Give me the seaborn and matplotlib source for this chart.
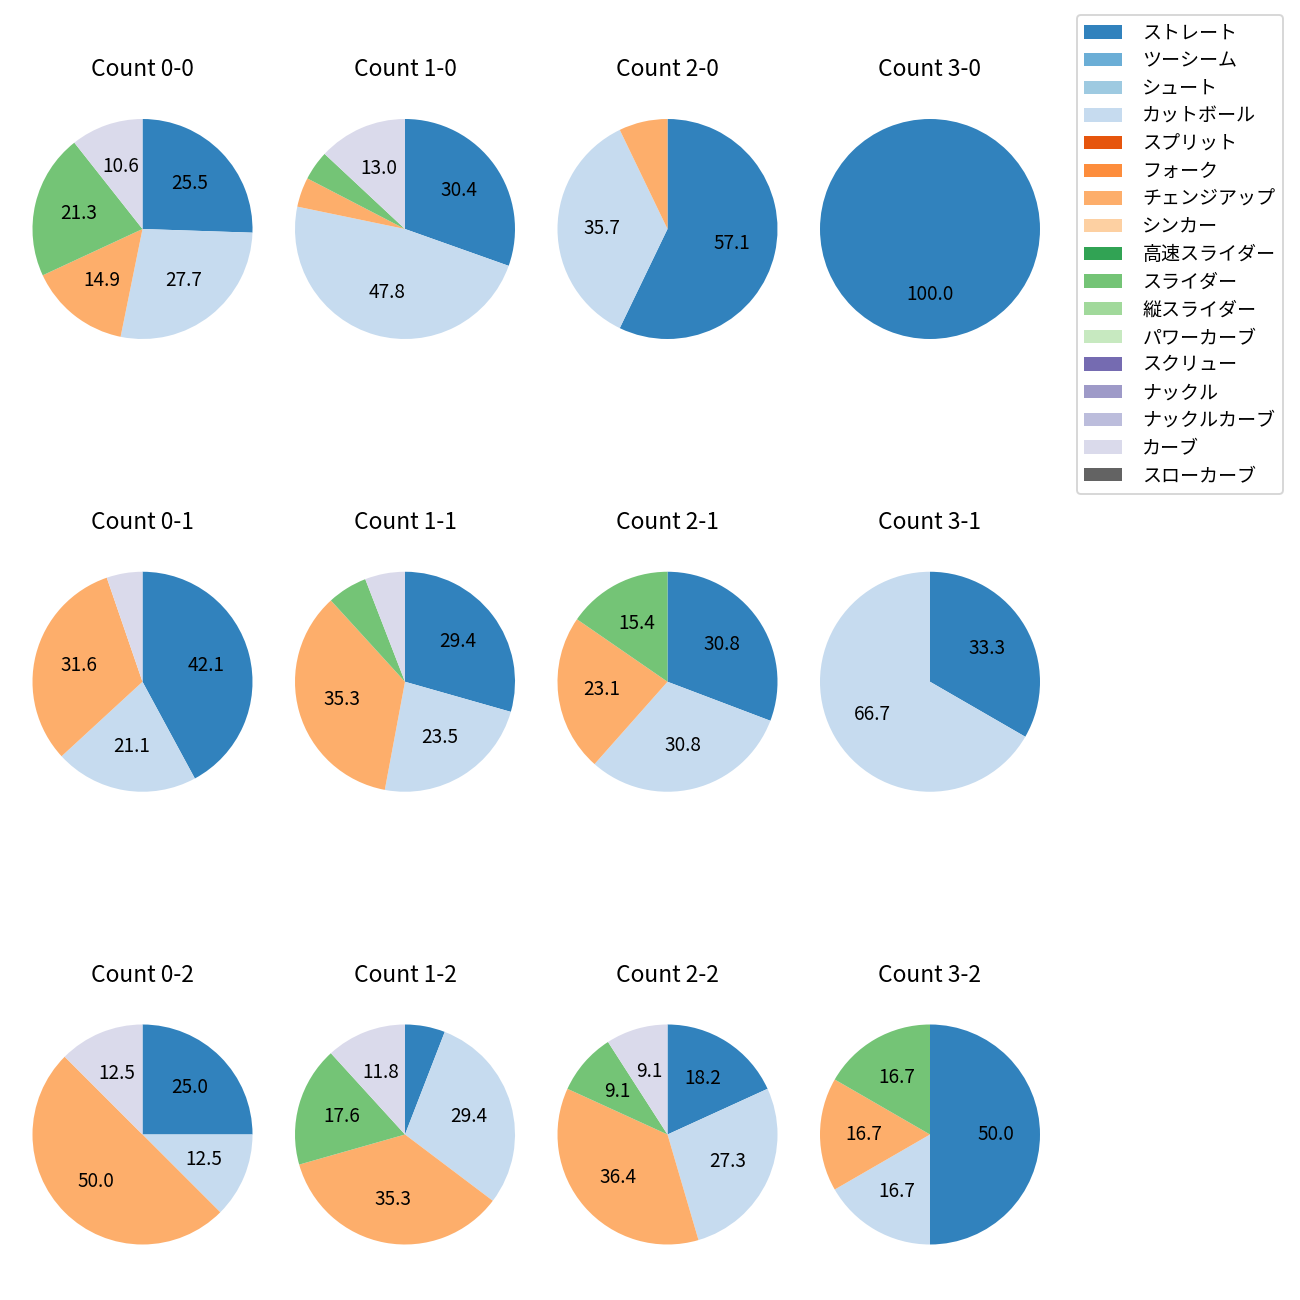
import matplotlib
matplotlib.use("Agg")
import matplotlib.pyplot as plt
from matplotlib.patches import Patch
import seaborn as sns

plt.rcParams['font.family'] = ['Noto Sans CJK JP', 'DejaVu Sans']

# ---- data ----
pitch_types = ["ストレート", "ツーシーム", "シュート", "カットボール", "スプリット", "フォーク",
               "チェンジアップ", "シンカー", "高速スライダー", "スライダー", "縦スライダー",
               "パワーカーブ", "スクリュー", "ナックル", "ナックルカーブ", "カーブ", "スローカーブ"]

# counts per pitch type for each ball-strike count (only non-zero types listed)
count_labels = ["0-0", "1-0", "2-0", "3-0",
                "0-1", "1-1", "2-1", "3-1",
                "0-2", "1-2", "2-2", "3-2"]

types_00 = ["ストレート", "カットボール", "チェンジアップ", "スライダー", "カーブ"]
vals_00 = [12, 13, 7, 10, 5]
types_10 = ["ストレート", "カットボール", "チェンジアップ", "スライダー", "カーブ"]
vals_10 = [7, 11, 1, 1, 3]
types_20 = ["ストレート", "カットボール", "チェンジアップ"]
vals_20 = [8, 5, 1]
types_30 = ["ストレート"]
vals_30 = [1]
types_01 = ["ストレート", "カットボール", "チェンジアップ", "カーブ"]
vals_01 = [8, 4, 6, 1]
types_11 = ["ストレート", "カットボール", "チェンジアップ", "スライダー", "カーブ"]
vals_11 = [5, 4, 6, 1, 1]
types_21 = ["ストレート", "カットボール", "チェンジアップ", "スライダー"]
vals_21 = [4, 4, 3, 2]
types_31 = ["ストレート", "カットボール"]
vals_31 = [1, 2]
types_02 = ["ストレート", "カットボール", "チェンジアップ", "カーブ"]
vals_02 = [2, 1, 4, 1]
types_12 = ["ストレート", "カットボール", "チェンジアップ", "スライダー", "カーブ"]
vals_12 = [1, 5, 6, 3, 2]
types_22 = ["ストレート", "カットボール", "チェンジアップ", "スライダー", "カーブ"]
vals_22 = [2, 3, 4, 1, 1]
types_32 = ["ストレート", "カットボール", "チェンジアップ", "スライダー"]
vals_32 = [3, 1, 1, 1]

all_types = [types_00, types_10, types_20, types_30,
             types_01, types_11, types_21, types_31,
             types_02, types_12, types_22, types_32]
all_vals = [vals_00, vals_10, vals_20, vals_30,
            vals_01, vals_11, vals_21, vals_31,
            vals_02, vals_12, vals_22, vals_32]

# ---- style ----
palette = sns.color_palette("tab20c", 20)
color_map = {t: palette[i] for i, t in enumerate(pitch_types)}

DPI = 137
W = H = 1300
fig = plt.figure(figsize=(W / DPI, H / DPI), dpi=DPI)

R = 110.0          # pie radius in px
AX = 2.5 * R       # axes size (xlim -1.25..1.25)


def autopct(p):
    return f"{p:.1f}" if p >= 8 else ""


for idx, (lab, types, vals) in enumerate(zip(count_labels, all_types, all_vals)):
    r, c = divmod(idx, 4)
    cx = 142.5 + 262.5 * c
    cy = 229.0 + 452.75 * r
    ax = fig.add_axes([(cx - AX / 2) / W, 1 - (cy + AX / 2) / H, AX / W, AX / H])
    ax.pie(vals, colors=[color_map[t] for t in types], startangle=90,
           counterclock=False, autopct=autopct, textprops={'fontsize': 10})
    ax.set_xlim(-1.25, 1.25)
    ax.set_ylim(-1.25, 1.25)
    ax.set_title(f"Count {lab}", fontsize=12, pad=7.9)

handles = [Patch(facecolor=color_map[t], label=t) for t in pitch_types]
fig.legend(handles=handles, loc="upper right",
           bbox_to_anchor=(1283 / W, 1 - 15 / H), borderaxespad=0, fontsize=10,
           labelspacing=0.35, handletextpad=1.05)

fig.savefig("out.png", dpi=DPI)
